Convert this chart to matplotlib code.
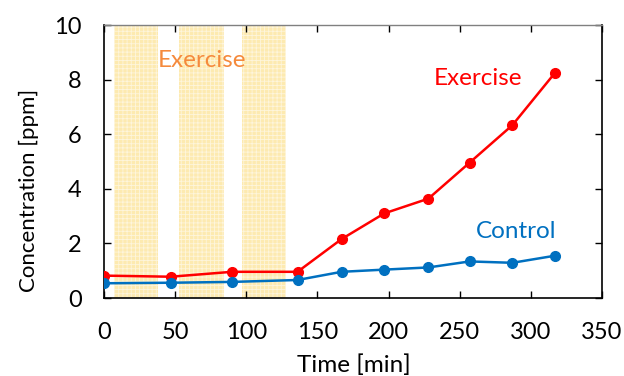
import matplotlib
matplotlib.use("Agg")
import matplotlib.pyplot as plt

time_ex = [0, 47, 90, 136, 167, 197, 228, 257, 287, 317]
exercise = [0.82, 0.78, 0.96, 0.96, 2.16, 3.10, 3.64, 4.96, 6.33, 8.25]
time_ct = [0, 47, 90, 136, 167, 197, 228, 257, 287, 317]
control = [0.54, 0.56, 0.59, 0.66, 0.96, 1.04, 1.12, 1.34, 1.29, 1.55]
exercise_spans = [(7, 38), (53, 84), (97, 128)]
xticks = [0, 50, 100, 150, 200, 250, 300, 350]
yticks = [0, 2, 4, 6, 8, 10]

plt.rcParams['font.family'] = ['Lato', 'DejaVu Sans']
plt.rcParams['hatch.linewidth'] = 0.6

fig = plt.figure(figsize=(6.24, 3.76), dpi=100)
ax = fig.add_axes([0.1667, 0.2074, 0.7980, 0.7261])

for a, b in exercise_spans:
    ax.axvspan(a, b, facecolor='#FDEAB0', edgecolor='#FEF5DC', hatch='++++', linewidth=0, zorder=0)

ax.plot(time_ex, exercise, color='#FF0000', marker='o', markersize=7, linewidth=1.8, zorder=3)
ax.plot(time_ct, control, color='#0070C0', marker='o', markersize=7, linewidth=1.8, zorder=3)

ax.text(69, 8.7, 'Exercise', color='#F58A3C', fontsize=17.5, ha='center', va='center')
ax.text(263, 8.05, 'Exercise', color='#FF0000', fontsize=17.5, ha='center', va='center')
ax.text(290, 2.45, 'Control', color='#0070C0', fontsize=17.5, ha='center', va='center')

ax.set_xlim(0, 350)
ax.set_ylim(0, 10)
ax.set_xticks(xticks)
ax.set_yticks(yticks)
ax.tick_params(direction='in', length=5, width=1, labelsize=17, top=True, right=True)
ax.tick_params(axis='x', pad=17)
ax.tick_params(axis='y', pad=16)
ax.set_xlabel('Time [min]', fontsize=17.5)
ax.set_ylabel('Concentration [ppm]', fontsize=16)
ax.xaxis.set_label_coords(0.502, -0.205)
ax.yaxis.set_label_coords(-0.13, 0.395)
for side in ['left', 'bottom', 'right']:
    ax.spines[side].set_color('black')
    ax.spines[side].set_linewidth(1.2)
ax.spines['top'].set_color('#808080')
ax.spines['top'].set_linewidth(1.0)

fig.savefig('out.png', dpi=100)
